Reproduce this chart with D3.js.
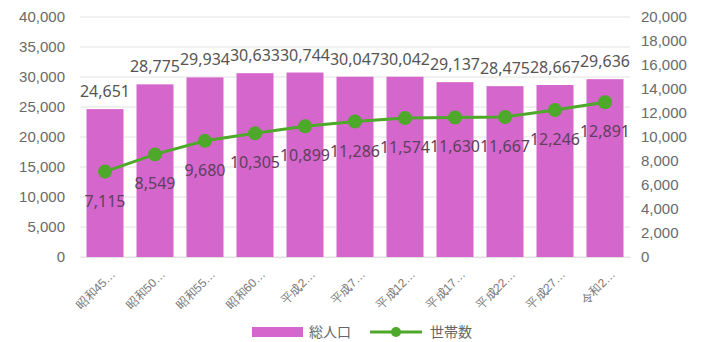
<!DOCTYPE html>
<html>
<head>
<meta charset="utf-8">
<script src="https://cdn.jsdelivr.net/npm/d3@7"></script>
<style>
  html, body { margin: 0; padding: 0; background: #fff; }
  svg { display: block; font-family: "Noto Sans", "Noto Sans CJK JP", sans-serif; }
</style>
</head>
<body>
<svg id="chart" width="706" height="342"></svg>
<script>
// 年次ラベル（表示用）
const categories = ["昭和45…", "昭和50…", "昭和55…", "昭和60…", "平成2…", "平成7…", "平成12…", "平成17…", "平成22…", "平成27…", "令和2…"];
// 総人口（人）
const population = [24651, 28775, 29934, 30633, 30744, 30047, 30042, 29137, 28475, 28667, 29636];
// 世帯数
const households = [7115, 8549, 9680, 10305, 10899, 11286, 11574, 11630, 11667, 12246, 12891];
// 軸目盛
const leftTicks = [0, 5000, 10000, 15000, 20000, 25000, 30000, 35000, 40000];
const rightTicks = [0, 2000, 4000, 6000, 8000, 10000, 12000, 14000, 16000, 18000, 20000];
const seriesNames = ["総人口", "世帯数"];

const barColor = "#d566cc";
const lineColor = "#4ea82a";
const fmt = d3.format(",");

const svg = d3.select("#chart");
const m = { left: 80, right: 76, top: 17, bottom: 85 };
const W = 706, H = 342;
const x0 = m.left, x1 = W - m.right, yTop = m.top, yBot = H - m.bottom;

const x = d3.scaleBand().domain(categories).range([x0, x1]).paddingInner(0.26).paddingOuter(0.13);
const yL = d3.scaleLinear().domain([0, 40000]).range([yBot, yTop]);
const yR = d3.scaleLinear().domain([0, 20000]).range([yBot, yTop]);
const cx = i => x(categories[i]) + x.bandwidth() / 2;

// グリッド線
svg.append("g")
  .selectAll("line").data(leftTicks).join("line")
  .attr("x1", x0).attr("x2", x1)
  .attr("y1", d => yL(d)).attr("y2", d => yL(d))
  .attr("stroke", "#e2e2e2").attr("stroke-width", 1);

// 左軸
const axL = svg.append("g").attr("transform", `translate(${x0},0)`)
  .call(d3.axisLeft(yL).tickValues(leftTicks).tickFormat(fmt).tickSize(0).tickPadding(15));
axL.select(".domain").remove();
axL.selectAll("text").attr("fill", "#6a6a6a").style("font-size", "15px");

// 右軸
const axR = svg.append("g").attr("transform", `translate(${x1},0)`)
  .call(d3.axisRight(yR).tickValues(rightTicks).tickFormat(fmt).tickSize(0).tickPadding(11));
axR.select(".domain").remove();
axR.selectAll("text").attr("fill", "#6a6a6a").style("font-size", "15px");

// 棒（総人口）
svg.append("g").selectAll("rect").data(population).join("rect")
  .attr("x", (d, i) => x(categories[i]))
  .attr("y", d => yL(d))
  .attr("width", x.bandwidth())
  .attr("height", d => yBot - yL(d))
  .attr("fill", barColor);

// 折れ線（世帯数）
const line = d3.line()
  .x((d, i) => cx(i))
  .y(d => yR(d));
svg.append("path").datum(households)
  .attr("d", line).attr("fill", "none")
  .attr("stroke", lineColor).attr("stroke-width", 3);
svg.append("g").selectAll("circle").data(households).join("circle")
  .attr("cx", (d, i) => cx(i))
  .attr("cy", d => yR(d))
  .attr("r", 7)
  .attr("fill", lineColor);

// 値ラベル（総人口）
svg.append("g").selectAll("text").data(population).join("text")
  .attr("x", (d, i) => cx(i))
  .attr("y", d => yL(d) - 12)
  .attr("text-anchor", "middle")
  .attr("fill", "#555")
  .style("font-size", "16px")
  .text(fmt);

// 値ラベル（世帯数）
svg.append("g").selectAll("text").data(households).join("text")
  .attr("x", (d, i) => cx(i))
  .attr("y", d => yR(d) + 35)
  .attr("text-anchor", "middle")
  .attr("fill", "#5e3f5c")
  .style("font-size", "16px")
  .text(fmt);

// X軸ラベル
const axX = svg.append("g").attr("transform", `translate(0,${yBot})`)
  .call(d3.axisBottom(x).tickSize(0));
axX.select(".domain").attr("stroke", "#e2e2e2");
axX.selectAll(".tick text")
  .attr("fill", "#777")
  .style("font-size", "12px")
  .attr("text-anchor", "end")
  .attr("x", 0).attr("y", 0)
  .attr("dy", "0.35em")
  .attr("transform", "translate(8,15) rotate(-45)");

// 凡例
const lg = svg.append("g").attr("transform", "translate(0,332)");
lg.append("rect").attr("x", 252).attr("y", -5).attr("width", 51).attr("height", 10).attr("fill", barColor);
lg.append("text").attr("x", 309).attr("y", 0).attr("dy", "0.35em")
  .attr("fill", "#666").style("font-size", "14px").text(seriesNames[0]);
lg.append("line").attr("x1", 370).attr("x2", 422).attr("y1", 0).attr("y2", 0)
  .attr("stroke", lineColor).attr("stroke-width", 3);
lg.append("circle").attr("cx", 396).attr("cy", 0).attr("r", 5).attr("fill", lineColor);
lg.append("text").attr("x", 430).attr("y", 0).attr("dy", "0.35em")
  .attr("fill", "#666").style("font-size", "14px").text(seriesNames[1]);
</script>
</body>
</html>
